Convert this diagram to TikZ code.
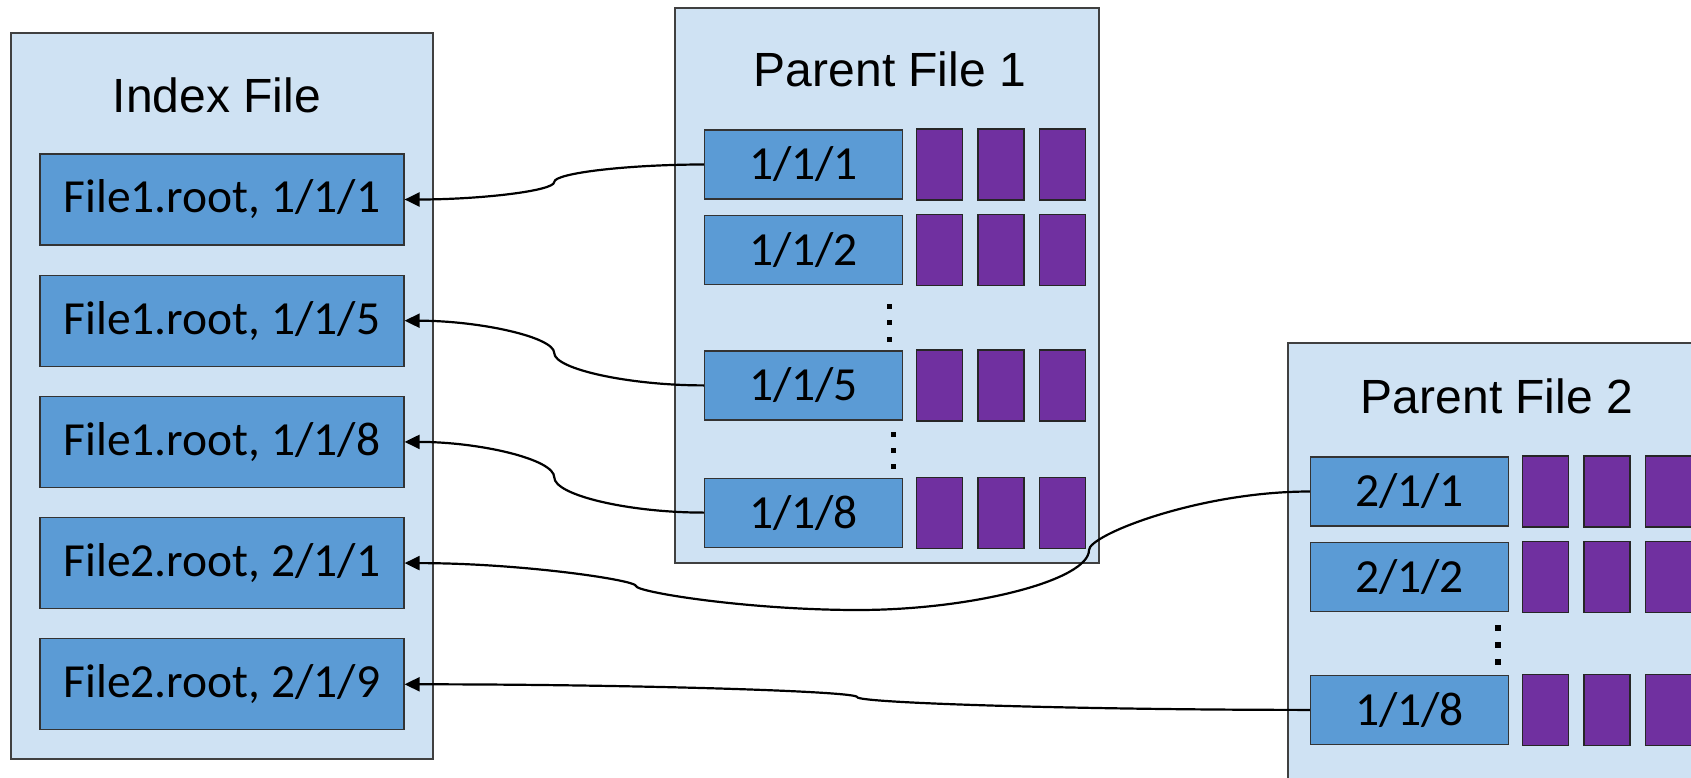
\documentclass[tikz,border=0pt]{standalone}
\usepackage{fontspec}
\usetikzlibrary{positioning,calc,arrows.meta}
\newfontfamily\headfont{Liberation Sans}
\newfontfamily\keyfont{Carlito}
\definecolor{paleblue}{RGB}{207,226,243}
\definecolor{keyblue}{RGB}{91,155,213}
\definecolor{slotpurple}{RGB}{112,48,160}

\begin{document}
\begin{tikzpicture}[x=1pt,y=-1pt]

	\tikzstyle{filebox}=[draw=black!75,fill=paleblue,line width=1.2pt,inner sep=0pt]
	\tikzstyle{boxtitle}=[anchor=base,inner sep=0pt,font=\headfont\fontsize{48}{58}\selectfont]
	\tikzstyle{idxentry}=[draw=black!80,fill=keyblue,line width=1.2pt,inner sep=0pt,
		minimum width=364pt,minimum height=91pt,font=\keyfont\fontsize{47.5}{57}\selectfont]
	\tikzstyle{rowkey}=[idxentry,minimum width=198pt,minimum height=69pt]
	\tikzstyle{slotbox}=[draw=black!85,fill=slotpurple,line width=1.2pt,inner sep=0pt,
		minimum width=46pt,minimum height=71pt]
	\tikzstyle{linkarrow}=[line width=2.2pt,-{Triangle[length=15pt,width=14pt]}]

	\useasboundingbox (0,0) rectangle (1691,778);

	% the three files
	\node[filebox,minimum width=422pt,minimum height=726pt] (idx) at (222,396) {};
	\node[filebox,minimum width=424pt,minimum height=555pt] (pf1) at (887,285.5) {};
	\node[filebox,minimum width=424pt,minimum height=555pt] (pf2) at (1500,620.5) {};

	\node[boxtitle] (idxt) at (217,113) {Index File};
	\node[boxtitle] (pf1t) at (890,87) {Parent File 1};
	\node[boxtitle] (pf2t) at (1497,413) {Parent File 2};

	% index entries
	\node[idxentry] (i1) at (222,199.5) {File1.root, 1/1/1};
	\node[idxentry] (i2) [below=29pt of i1] {File1.root, 1/1/5};
	\node[idxentry] (i3) [below=29pt of i2] {File1.root, 1/1/8};
	\node[idxentry] (i4) [below=29pt of i3] {File2.root, 2/1/1};
	\node[idxentry] (i5) [below=29pt of i4] {File2.root, 2/1/9};

	% rows of parent file 1
	\node[rowkey] (k11) at (803.5,164.5) {1/1/1};
	\node[rowkey] (k12) [below=15pt of k11] {1/1/2};
	\node[rowkey] (k15) [below=65.5pt of k12] {1/1/5};
	\node[rowkey] (k18) [below=57pt of k15] {1/1/8};

	% rows of parent file 2
	\node[rowkey] (k21) at (1409.5,491.5) {2/1/1};
	\node[rowkey] (k22) [below=15pt of k21] {2/1/2};
	\node[rowkey] (k28) [below=63pt of k22] {1/1/8};

	% data slots
	\foreach \r in {k11,k12,k15,k18,k21,k22,k28} {
		\node[slotbox] (\r-a) [right=13pt of \r] {};
		\node[slotbox] (\r-b) [right=14pt of \r-a] {};
		\node[slotbox] (\r-c) [right=14pt of \r-b] {};
	}

	% skipped rows
	\foreach \y in {306,322,339} \fill (886.5,\y-2.5) rectangle +(5,5);
	\foreach \y in {434,450,466} \fill (890.5,\y-2.5) rectangle +(5,5);
	\foreach \y in {627,644,661} \fill (1495,\y-2.5) rectangle +(6,6);

	% links back to the index
	\draw[linkarrow] (k11.west) to[out=180,in=90,out distance=75pt,in distance=9pt]
		($(k11.west)!0.5!(i1.east)$) to[out=270,in=0,out distance=9pt,in distance=75pt] (i1.east);
	\draw[linkarrow] (k15.west) to[out=180,in=270,out distance=75pt,in distance=16pt]
		($(k15.west)!0.5!(i2.east)$) to[out=90,in=0,out distance=16pt,in distance=75pt] (i2.east);
	\draw[linkarrow] (k18.west) to[out=180,in=270,out distance=75pt,in distance=18pt]
		($(k18.west)!0.5!(i3.east)$) to[out=90,in=0,out distance=18pt,in distance=75pt] (i3.east);

	\coordinate (w1) at (1089,550);
	\coordinate (w2) at (858,610);
	\coordinate (w3) at (636,586);
	\draw[linkarrow] (k21.west) to[out=180,in=90,out distance=111pt,in distance=15pt] (w1)
		to[out=270,in=0,out distance=30pt,in distance=115pt] (w2)
		to[out=180,in=270,out distance=111pt,in distance=6pt] (w3)
		to[out=90,in=0,out distance=6pt,in distance=116pt] (i4.east);

	\draw[linkarrow] (k28.west) to[out=180,in=270,out distance=226pt,in distance=6pt]
		($(k28.west)!0.5!(i5.east)$) to[out=90,in=0,out distance=6pt,in distance=226pt] (i5.east);

\end{tikzpicture}
\end{document}
